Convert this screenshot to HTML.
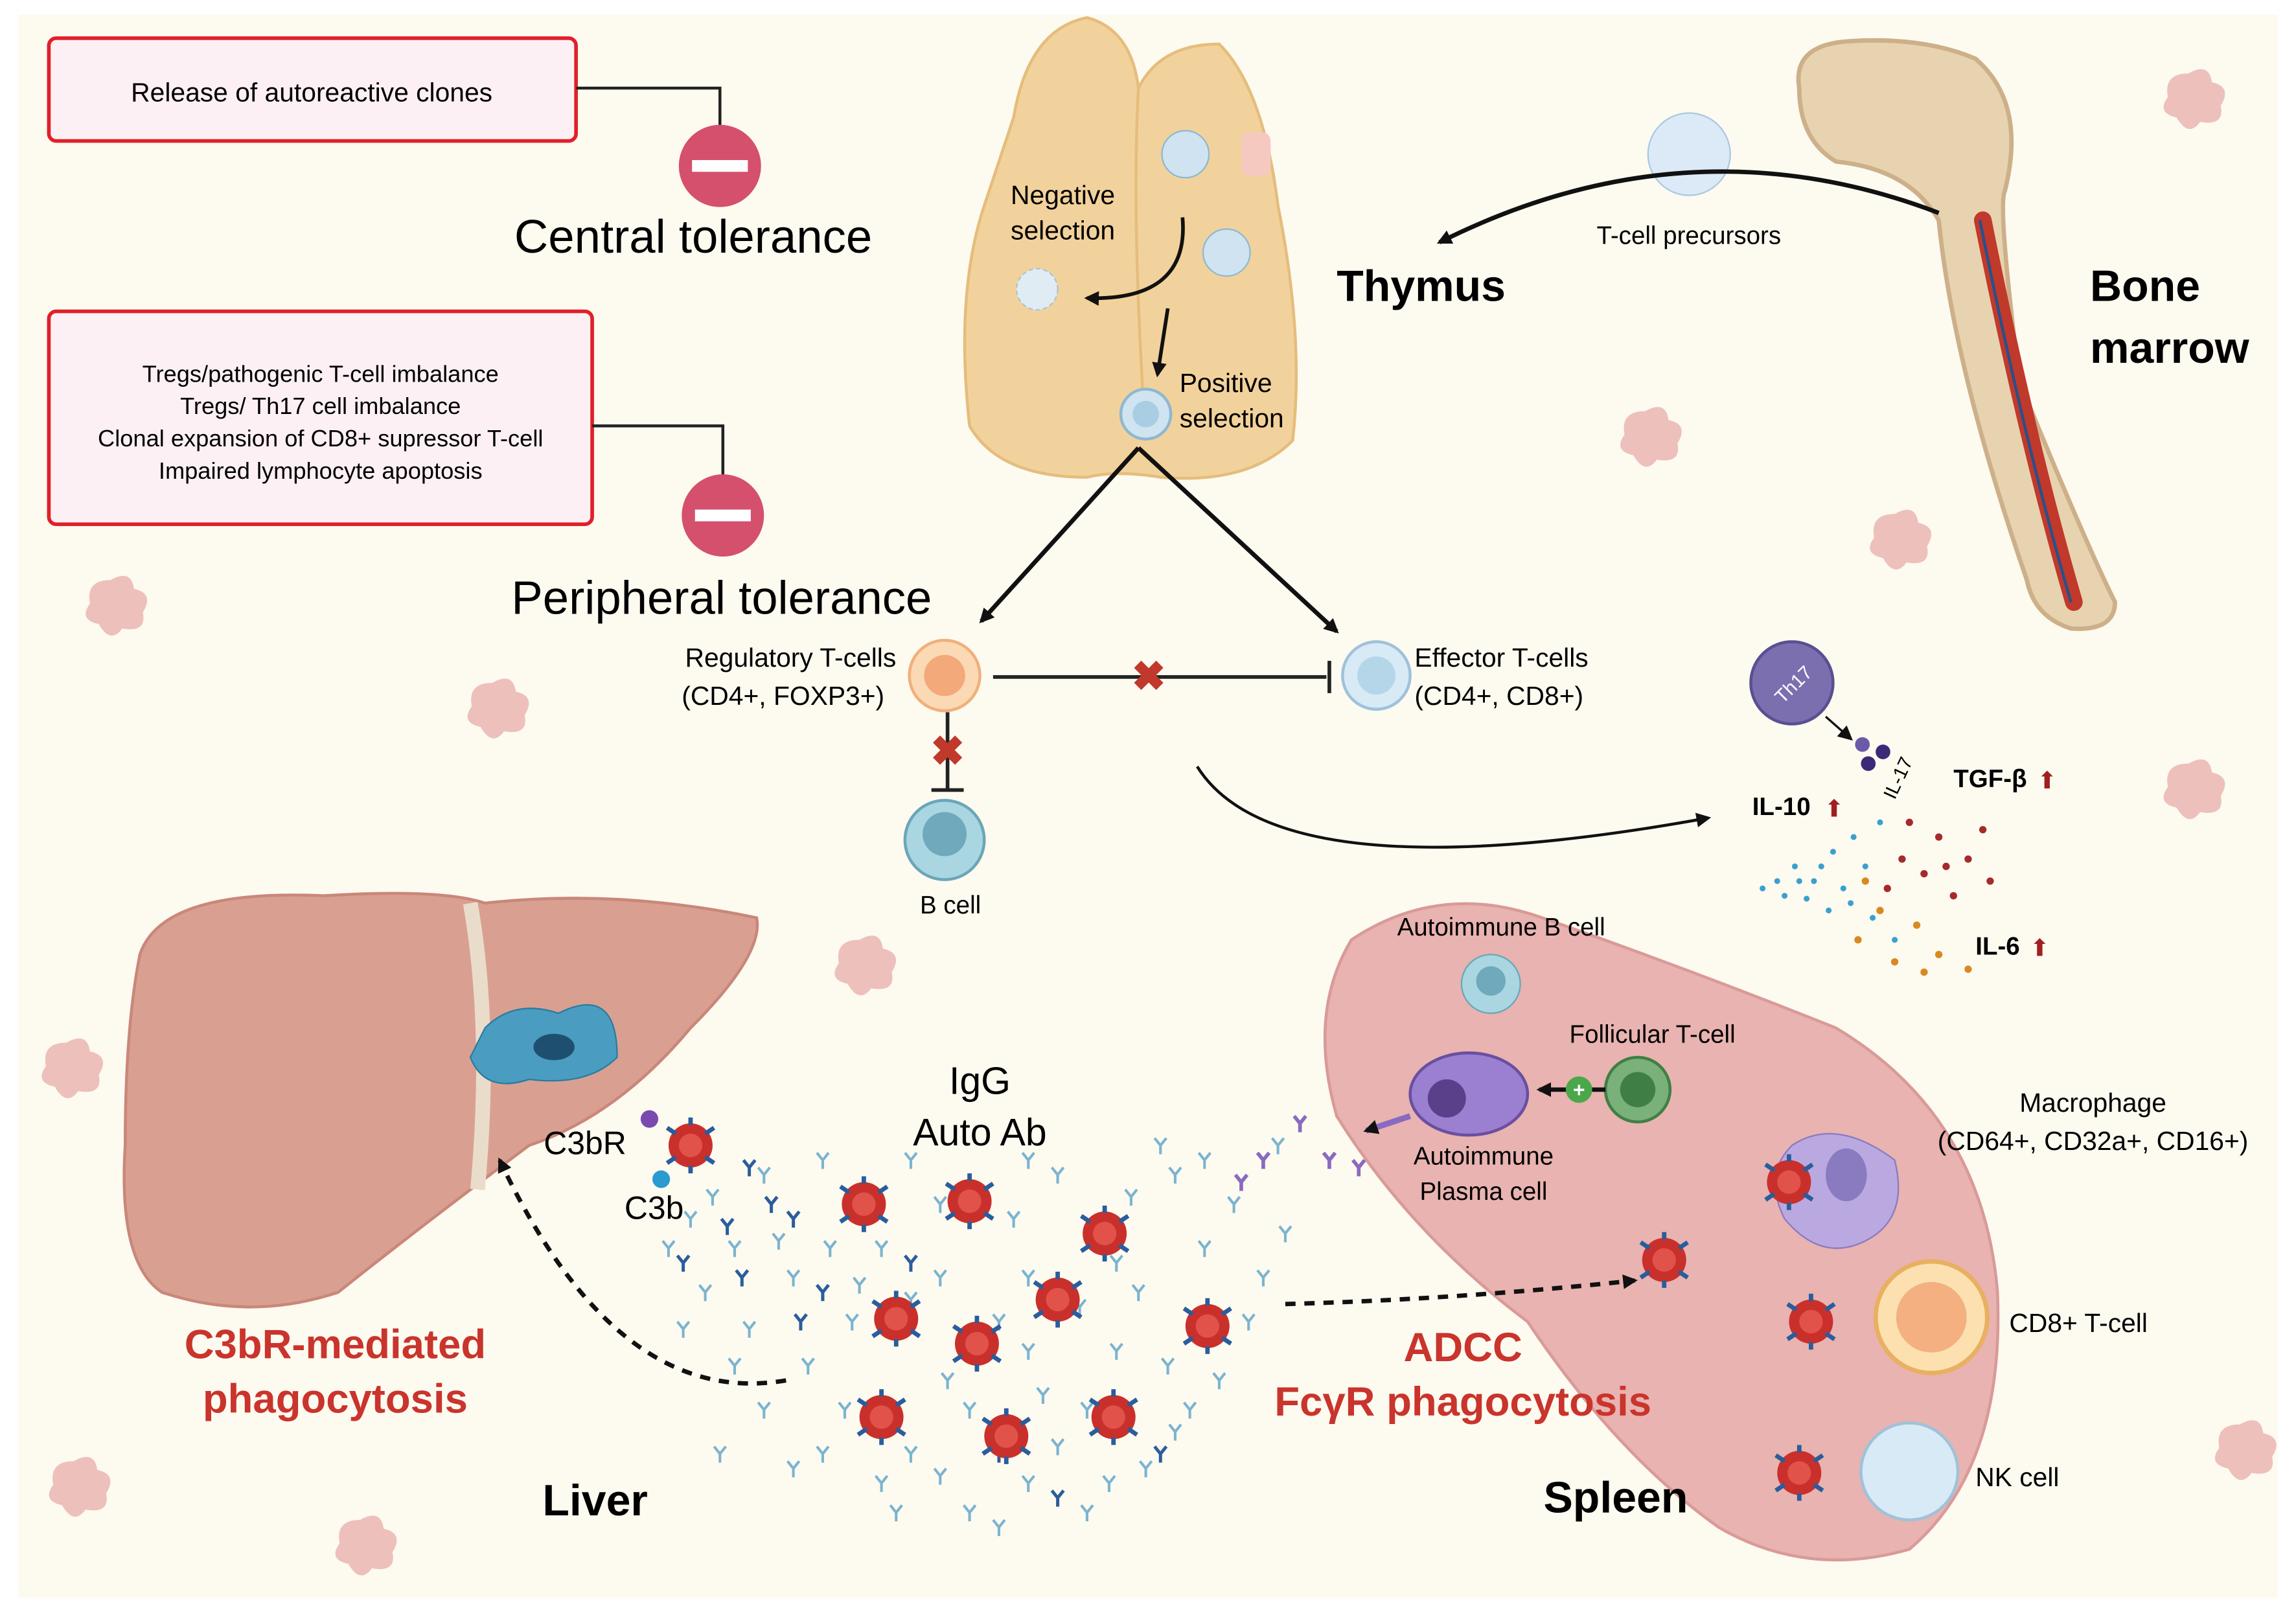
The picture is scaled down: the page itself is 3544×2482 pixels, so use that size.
<!DOCTYPE html>
<html><head><meta charset="utf-8"><style>
html,body{margin:0;padding:0;background:#fff}
svg{display:block}
text{font-family:"Liberation Sans",sans-serif}
</style></head><body>
<svg width="3544" height="2482" viewBox="0 0 1563 1095" xmlns="http://www.w3.org/2000/svg">
<defs>
<marker id="ah" markerWidth="10" markerHeight="10" refX="8" refY="5" orient="auto" markerUnits="userSpaceOnUse"><path d="M0,0 L10,5 L0,10 z" fill="#111"/></marker>
<g id="rbc"><circle r="15" fill="#c9302c"/><circle r="8" fill="#e0524a"/><path d="M-16,-12 l6,4 M16,-12 l-6,4 M-16,12 l6,-4 M16,12 l-6,-4 M0,-19 v5 M0,19 v-5" stroke="#2a5d9c" stroke-width="3"/></g>
<g id="ab"><path d="M0,0 v6 M0,0 l-4,-5 M0,0 l4,-5" stroke="#7ab4d0" stroke-width="1.8" fill="none"/></g>
<g id="abd"><path d="M0,0 v6 M0,0 l-4,-5 M0,0 l4,-5" stroke="#2a5d9c" stroke-width="2.2" fill="none"/></g>
<g id="sp"><path d="M0,-20 q14,-8 16,6 q14,3 6,16 q3,14 -14,11 q-8,11 -16,-3 q-14,-3 -6,-14 q-3,-16 14,-16z" fill="#e39a9a" opacity="0.6"/></g>
</defs>
<rect x="0" y="0" width="1563" height="1095" fill="#fff"/>
<rect x="12" y="10" width="1539" height="1078" fill="#fdfaf0"/>
<use href="#sp" x="1490" y="70"/><use href="#sp" x="1120" y="300"/><use href="#sp" x="1290" y="370"/><use href="#sp" x="75" y="415"/><use href="#sp" x="335" y="485"/><use href="#sp" x="1490" y="540"/><use href="#sp" x="585" y="660"/><use href="#sp" x="45" y="730"/><use href="#sp" x="1525" y="990"/><use href="#sp" x="50" y="1015"/><use href="#sp" x="245" y="1055"/>
<rect x="33" y="26" width="359" height="70" rx="5" fill="#fdf0f4" stroke="#e0202a" stroke-width="2.5"/>
<text x="212" y="69" font-size="18" text-anchor="middle">Release of  autoreactive clones</text>
<path d="M392,60 H490 V88" stroke="#222" stroke-width="2" fill="none"/>
<circle cx="490" cy="113" r="28" fill="#d4506c"/><rect x="471" y="109" width="38" height="8" fill="#fff"/>
<text x="350" y="172" font-size="32">Central tolerance</text>
<rect x="33" y="212" width="370" height="145" rx="5" fill="#fdf0f4" stroke="#e0202a" stroke-width="2.5"/>
<g font-size="16" text-anchor="middle"><text x="218" y="260">Tregs/pathogenic T-cell imbalance</text><text x="218" y="282">Tregs/ Th17 cell imbalance</text><text x="218" y="304">Clonal expansion of CD8+ supressor T-cell</text><text x="218" y="326">Impaired lymphocyte apoptosis</text></g>
<path d="M403,290 H492 V325" stroke="#222" stroke-width="2" fill="none"/>
<circle cx="492" cy="351" r="28" fill="#d4506c"/><rect x="473" y="347" width="38" height="8" fill="#fff"/>
<text x="348" y="418" font-size="32">Peripheral tolerance</text>
<path d="M690,80 Q700,20 740,12 Q770,20 775,60 Q790,30 830,30 Q860,60 870,140 Q888,230 880,300 Q850,330 790,325 Q760,320 740,325 Q680,325 660,290 Q650,200 670,140 Z" fill="#f2d29c" stroke="#e5bd7c" stroke-width="2"/>
<path d="M775,60 Q770,150 780,300" stroke="#e5bd7c" stroke-width="2" fill="none"/>
<circle cx="807" cy="105" r="16" fill="#cfe4f0" stroke="#8fb8d0"/><circle cx="835" cy="172" r="16" fill="#cfe4f0" stroke="#8fb8d0"/>
<rect x="845" y="90" width="20" height="30" rx="6" fill="#f6c9c0"/>
<circle cx="706" cy="197" r="14" fill="#e0ecf4" stroke="#a9c4d6" stroke-dasharray="3 2"/>
<path d="M805,148 Q810,205 740,203" stroke="#111" stroke-width="2.5" fill="none" marker-end="url(#ah)"/>
<path d="M795,210 L788,255" stroke="#111" stroke-width="2.5" marker-end="url(#ah)"/>
<text x="688" y="139" font-size="18">Negative</text><text x="688" y="163" font-size="18">selection</text>
<circle cx="780" cy="282" r="17" fill="#cfe4f0" stroke="#8fb8d0" stroke-width="2"/><circle cx="780" cy="282" r="9" fill="#a9cde3"/>
<text x="803" y="267" font-size="18">Positive</text><text x="803" y="291" font-size="18">selection</text>
<path d="M1225,60 Q1220,30 1260,28 Q1310,25 1345,40 Q1380,70 1365,130 Q1360,140 1375,260 Q1420,370 1440,410 Q1440,430 1410,428 Q1385,420 1380,395 Q1330,250 1320,150 Q1300,115 1250,110 Q1225,95 1225,60z" fill="#e8d3b0" stroke="#cdb089" stroke-width="3"/>
<path d="M1350,150 Q1380,300 1412,410" stroke="#c0392b" stroke-width="12" fill="none" stroke-linecap="round"/>
<path d="M1348,150 Q1378,300 1410,410" stroke="#2a4f8a" stroke-width="2" fill="none"/>
<circle cx="1150" cy="105" r="28" fill="#dbeaf6" stroke="#a9c8e2"/>
<path d="M1320,145 Q1150,80 980,165" stroke="#111" stroke-width="3" fill="none" marker-end="url(#ah)"/>
<text x="1087" y="166" font-size="17">T-cell precursors</text>
<text x="910" y="205" font-size="30" font-weight="bold">Thymus</text>
<text x="1423" y="205" font-size="30" font-weight="bold">Bone</text><text x="1423" y="247" font-size="30" font-weight="bold">marrow</text>
<path d="M775,305 L668,423" stroke="#111" stroke-width="3" marker-end="url(#ah)"/>
<path d="M775,305 L910,430" stroke="#111" stroke-width="3" marker-end="url(#ah)"/>
<text x="610" y="454" font-size="18" text-anchor="end">Regulatory T-cells</text><text x="602" y="480" font-size="18" text-anchor="end">(CD4+, FOXP3+)</text>
<circle cx="643" cy="460" r="24" fill="#fbd9b4" stroke="#f0b07a" stroke-width="2"/><circle cx="643" cy="460" r="14" fill="#f3a97a"/>
<path d="M676,461 H903 M905,450 V472" stroke="#222" stroke-width="2.5"/>
<text x="782" y="470" font-size="28" fill="#c0392b" text-anchor="middle" font-weight="bold">✖</text>
<circle cx="937" cy="460" r="23" fill="#d8eaf5" stroke="#9fc2da" stroke-width="2"/><circle cx="937" cy="460" r="13" fill="#b5d5e9"/>
<text x="963" y="454" font-size="18">Effector T-cells</text><text x="963" y="480" font-size="18">(CD4+, CD8+)</text>
<path d="M645,485 V538 M634,538 H656" stroke="#222" stroke-width="2.5"/>
<text x="645" y="521" font-size="28" fill="#c0392b" text-anchor="middle" font-weight="bold">✖</text>
<circle cx="643" cy="572" r="27" fill="#a9d6e0" stroke="#6aa6b8" stroke-width="2"/><circle cx="643" cy="568" r="15" fill="#6fa9bb"/>
<text x="647" y="622" font-size="17" text-anchor="middle">B cell</text>
<path d="M815,522 Q870,610 1163,557" stroke="#111" stroke-width="2" fill="none" marker-end="url(#ah)"/>
<circle cx="1220" cy="465" r="28" fill="#7b6fb0" stroke="#5a4f90" stroke-width="2"/><text x="1220" y="471" font-size="13" fill="#fff" text-anchor="middle" transform="rotate(-45 1220 465)">Th17</text>
<path d="M1243,488 L1260,503" stroke="#111" stroke-width="1.5" marker-end="url(#ah)"/>
<circle cx="1268" cy="507" r="5" fill="#6a5aa8"/><circle cx="1282" cy="512" r="5" fill="#3a2a78"/><circle cx="1272" cy="520" r="5" fill="#3a2a78"/>
<text x="1290" y="545" font-size="13" transform="rotate(-65 1290 545)">IL-17</text>
<text x="1193" y="555" font-size="17" font-weight="bold">IL-10</text><text x="1242" y="556" font-size="16" fill="#a02020">⬆</text>
<text x="1330" y="536" font-size="17" font-weight="bold">TGF-β</text><text x="1387" y="537" font-size="16" fill="#a02020">⬆</text>
<text x="1345" y="650" font-size="17" font-weight="bold">IL-6</text><text x="1382" y="651" font-size="16" fill="#a02020">⬆</text>
<g fill="#3aa0d0">
<circle cx="1210" cy="600" r="2"/><circle cx="1222" cy="590" r="2"/><circle cx="1235" cy="600" r="2"/><circle cx="1248" cy="580" r="2"/><circle cx="1230" cy="612" r="2"/><circle cx="1255" cy="605" r="2"/><circle cx="1262" cy="570" r="2"/><circle cx="1270" cy="590" r="2"/><circle cx="1245" cy="620" r="2"/><circle cx="1215" cy="610" r="2"/><circle cx="1280" cy="560" r="2"/><circle cx="1275" cy="625" r="2"/><circle cx="1290" cy="640" r="2"/><circle cx="1200" cy="605" r="2"/><circle cx="1240" cy="590" r="2"/><circle cx="1260" cy="615" r="2"/><circle cx="1225" cy="600" r="2"/></g>
<g fill="#a52a2a"><circle cx="1300" cy="560" r="2.5"/><circle cx="1320" cy="570" r="2.5"/><circle cx="1340" cy="585" r="2.5"/><circle cx="1310" cy="595" r="2.5"/><circle cx="1330" cy="610" r="2.5"/><circle cx="1355" cy="600" r="2.5"/><circle cx="1295" cy="585" r="2.5"/><circle cx="1350" cy="565" r="2.5"/><circle cx="1285" cy="605" r="2.5"/><circle cx="1325" cy="590" r="2.5"/></g>
<g fill="#d88a20"><circle cx="1265" cy="640" r="2.5"/><circle cx="1290" cy="655" r="2.5"/><circle cx="1305" cy="630" r="2.5"/><circle cx="1320" cy="650" r="2.5"/><circle cx="1280" cy="620" r="2.5"/><circle cx="1310" cy="662" r="2.5"/><circle cx="1340" cy="660" r="2.5"/><circle cx="1270" cy="600" r="2.5"/></g>
<path d="M95,650 Q110,605 220,610 Q300,605 330,615 Q420,605 515,625 Q520,650 470,700 Q420,760 360,780 Q280,840 230,880 Q170,900 110,880 Q80,860 85,780 Q85,700 95,650z" fill="#d9a091" stroke="#c9877a" stroke-width="2"/>
<path d="M320,615 Q335,700 325,810" stroke="#eadccb" stroke-width="10" fill="none"/>
<path d="M330,700 Q350,680 380,690 Q420,670 420,720 Q400,740 360,735 Q330,745 320,720z" fill="#4a9cc0" stroke="#2a7ca0"/>
<ellipse cx="377" cy="713" rx="14" ry="9" fill="#1f4f70"/>
<use href="#rbc" x="470" y="780"/>
<circle cx="442" cy="762" r="6" fill="#7a4ab0"/><circle cx="450" cy="803" r="6" fill="#2a9ad0"/>
<text x="370" y="786" font-size="22">C3bR</text><text x="425" y="830" font-size="22">C3b</text>
<path d="M920,640 Q980,600 1050,625 Q1150,660 1250,700 Q1350,760 1360,880 Q1365,1000 1300,1055 Q1230,1075 1170,1040 Q1100,990 1040,900 Q960,840 910,760 Q890,690 920,640z" fill="#e8b3b0" stroke="#d99a98" stroke-width="2"/>
<text x="1022" y="637" font-size="17" text-anchor="middle">Autoimmune B cell</text>
<circle cx="1015" cy="670" r="20" fill="#a9d6e0" stroke="#6aa6b8"/><circle cx="1015" cy="668" r="10" fill="#6fa9bb"/>
<text x="1125" y="710" font-size="17" text-anchor="middle">Follicular T-cell</text>
<circle cx="1115" cy="742" r="22" fill="#7ab07a" stroke="#3f7f45" stroke-width="2"/><circle cx="1115" cy="742" r="12" fill="#3f7f45"/>
<path d="M1093,742 H1048" stroke="#111" stroke-width="3" marker-end="url(#ah)"/><circle cx="1075" cy="742" r="9" fill="#4aa84a"/><text x="1075" y="747" font-size="14" fill="#fff" text-anchor="middle" font-weight="bold">+</text>
<ellipse cx="1000" cy="745" rx="40" ry="28" fill="#9b7fd0" stroke="#6a4fa0" stroke-width="2"/><circle cx="985" cy="748" r="13" fill="#5a3f8a"/>
<path d="M960,760 L930,770" stroke="#8a6ac0" stroke-width="4" marker-end="url(#ah)"/>
<text x="1010" y="793" font-size="17" text-anchor="middle">Autoimmune</text><text x="1010" y="817" font-size="17" text-anchor="middle">Plasma cell</text>
<text x="1425" y="757" font-size="18" text-anchor="middle">Macrophage</text><text x="1425" y="783" font-size="18" text-anchor="middle">(CD64+, CD32a+, CD16+)</text>
<path d="M1220,780 Q1250,760 1290,790 Q1300,830 1270,845 Q1240,860 1215,830 Q1200,800 1220,780z" fill="#b9a9e0" stroke="#8a7ac0"/><ellipse cx="1257" cy="800" rx="14" ry="18" fill="#8a7ac0"/>
<use href="#rbc" x="1218" y="805"/>
<use href="#rbc" x="1133" y="858"/>
<circle cx="1315" cy="897" r="38" fill="#fce0b0" stroke="#e8b060" stroke-width="3"/><circle cx="1315" cy="897" r="24" fill="#f4b080"/>
<use href="#rbc" x="1233" y="900"/>
<text x="1368" y="907" font-size="18">CD8+ T-cell</text>
<circle cx="1300" cy="1002" r="33" fill="#d8eaf5" stroke="#9fc2da" stroke-width="2"/>
<use href="#rbc" x="1225" y="1003"/>
<text x="1345" y="1012" font-size="18">NK cell</text>
<g>
<use href="#ab" x="470" y="830"/><use href="#ab" x="500" y="850"/><use href="#ab" x="520" y="800"/><use href="#ab" x="540" y="870"/><use href="#ab" x="560" y="790"/><use href="#ab" x="480" y="880"/><use href="#ab" x="510" y="905"/><use href="#ab" x="550" y="930"/><use href="#ab" x="575" y="960"/><use href="#ab" x="600" y="850"/><use href="#ab" x="620" y="990"/><use href="#ab" x="640" y="870"/><use href="#ab" x="660" y="960"/><use href="#ab" x="690" y="830"/><use href="#ab" x="700" y="1010"/><use href="#ab" x="720" y="800"/><use href="#ab" x="740" y="960"/><use href="#ab" x="760" y="860"/><use href="#ab" x="780" y="1000"/><use href="#ab" x="800" y="800"/><use href="#ab" x="820" y="850"/><use href="#ab" x="840" y="820"/><use href="#ab" x="860" y="870"/><use href="#ab" x="790" y="780"/><use href="#ab" x="830" y="940"/><use href="#ab" x="600" y="1010"/><use href="#ab" x="660" y="1030"/><use href="#ab" x="520" y="960"/><use href="#ab" x="490" y="990"/><use href="#ab" x="580" y="900"/><use href="#ab" x="700" y="920"/><use href="#ab" x="760" y="920"/><use href="#ab" x="640" y="820"/><use href="#ab" x="870" y="780"/><use href="#ab" x="700" y="870"/>
<use href="#ab" x="455" y="850"/><use href="#ab" x="485" y="815"/><use href="#ab" x="530" y="845"/><use href="#ab" x="565" y="850"/><use href="#ab" x="585" y="875"/><use href="#ab" x="620" y="885"/><use href="#ab" x="645" y="940"/><use href="#ab" x="680" y="900"/><use href="#ab" x="710" y="950"/><use href="#ab" x="735" y="890"/><use href="#ab" x="775" y="880"/><use href="#ab" x="795" y="930"/><use href="#ab" x="810" y="960"/><use href="#ab" x="850" y="900"/><use href="#ab" x="875" y="840"/><use href="#ab" x="820" y="790"/><use href="#ab" x="770" y="815"/><use href="#ab" x="700" y="790"/><use href="#ab" x="620" y="790"/><use href="#ab" x="560" y="990"/><use href="#ab" x="640" y="1005"/><use href="#ab" x="720" y="985"/><use href="#ab" x="755" y="1010"/><use href="#ab" x="800" y="975"/><use href="#ab" x="540" y="1000"/><use href="#ab" x="500" y="930"/><use href="#ab" x="465" y="905"/><use href="#ab" x="740" y="1030"/><use href="#ab" x="680" y="1040"/><use href="#ab" x="610" y="1030"/>
<use href="#abd" x="495" y="835"/><use href="#abd" x="540" y="830"/><use href="#abd" x="510" y="795"/><use href="#abd" x="465" y="860"/><use href="#abd" x="545" y="900"/><use href="#abd" x="680" y="990"/><use href="#abd" x="720" y="1020"/><use href="#abd" x="790" y="990"/><use href="#abd" x="620" y="860"/><use href="#abd" x="525" y="820"/><use href="#abd" x="560" y="880"/><use href="#abd" x="505" y="870"/>
</g>
<g stroke="#8a6ac0" stroke-width="2.5" fill="none"><path d="M885,765 l-4,-5 M885,765 l4,-5 M885,765 v6"/><path d="M905,790 l-4,-5 M905,790 l4,-5 M905,790 v6"/><path d="M860,790 l-4,-5 M860,790 l4,-5 M860,790 v6"/><path d="M925,795 l-4,-5 M925,795 l4,-5 M925,795 v6"/><path d="M845,805 l-4,-5 M845,805 l4,-5 M845,805 v6"/></g>
<use href="#rbc" x="588" y="820"/><use href="#rbc" x="660" y="818"/><use href="#rbc" x="752" y="840"/><use href="#rbc" x="610" y="898"/><use href="#rbc" x="665" y="915"/><use href="#rbc" x="720" y="885"/><use href="#rbc" x="822" y="903"/><use href="#rbc" x="600" y="965"/><use href="#rbc" x="685" y="978"/><use href="#rbc" x="758" y="965"/>
<text x="667" y="745" font-size="26" text-anchor="middle">IgG</text><text x="667" y="780" font-size="26" text-anchor="middle">Auto Ab</text>
<path d="M535,940 Q420,960 340,790" stroke="#111" stroke-width="3" stroke-dasharray="7 6" fill="none" marker-end="url(#ah)"/>
<path d="M875,888 Q990,885 1113,872" stroke="#111" stroke-width="3" stroke-dasharray="7 6" fill="none" marker-end="url(#ah)"/>
<g font-size="28" font-weight="bold" fill="#c9342c" text-anchor="middle"><text x="228" y="925">C3bR-mediated</text><text x="228" y="962">phagocytosis</text><text x="996" y="927">ADCC</text><text x="996" y="964">FcγR phagocytosis</text></g>
<text x="405" y="1032" font-size="30" font-weight="bold" text-anchor="middle">Liver</text>
<text x="1100" y="1030" font-size="30" font-weight="bold" text-anchor="middle">Spleen</text>
</svg>
</body></html>
